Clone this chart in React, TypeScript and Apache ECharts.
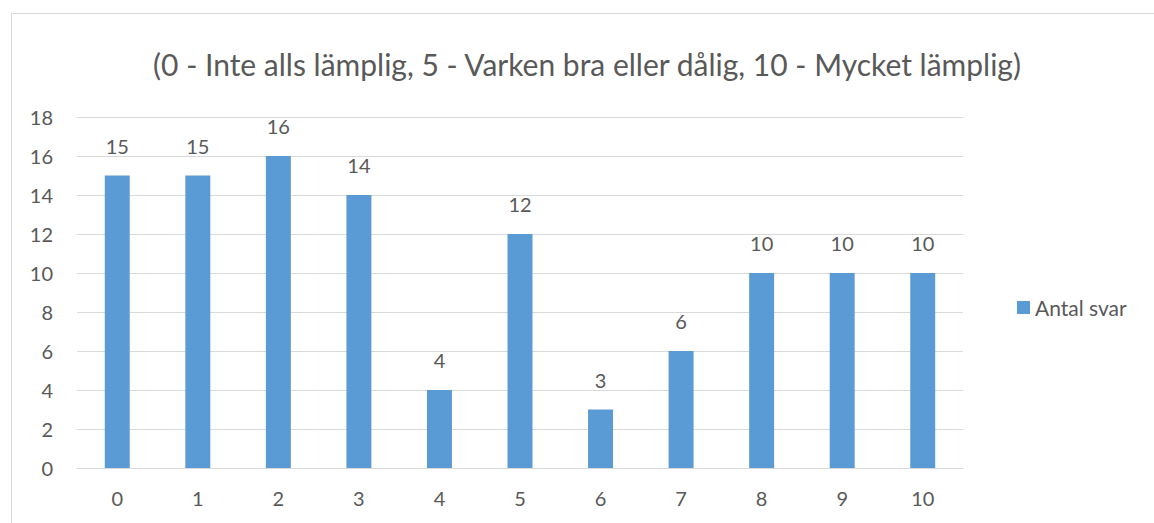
import React, { useEffect, useRef } from "react";
import * as echarts from "echarts";

const categories = ["0", "1", "2", "3", "4", "5", "6", "7", "8", "9", "10"];
const antalSvar = [15, 15, 16, 14, 4, 12, 3, 6, 10, 10, 10];
const titleText = "(0 - Inte alls lämplig, 5 - Varken bra eller dålig, 10 - Mycket lämplig)";
const seriesName = "Antal svar";

const FONT = "Lato, 'Open Sans', sans-serif";
const TXT = "#595959";

export default function App() {
  const ref = useRef<HTMLDivElement>(null);
  useEffect(() => {
    document.body.style.margin = "0";
    const chart = echarts.init(ref.current!, null, { renderer: "svg" });
    chart.setOption({
      animation: false,
      backgroundColor: "#ffffff",
      textStyle: { fontFamily: FONT },
      graphic: [
        {
          type: "rect",
          shape: { x: 11.5, y: 13.5, width: 1300, height: 700 },
          style: { fill: "none", stroke: "#D9D9D9", lineWidth: 1 },
          silent: true,
        },
        {
          type: "text",
          x: 587,
          y: 64,
          style: {
            text: titleText,
            fontFamily: FONT,
            fontSize: 30,
            fill: TXT,
            textAlign: "center",
            textVerticalAlign: "middle",
          },
          silent: true,
        },
      ],
      legend: {
        left: 1012,
        top: 292,
        itemWidth: 13,
        itemHeight: 13,
        icon: "rect",
        itemGap: 6,
        textStyle: { fontFamily: FONT, fontSize: 21, color: TXT },
        data: [seriesName],
      },
      grid: { left: 77, right: 191, top: 117, bottom: 55, containLabel: false },
      xAxis: {
        type: "category",
        data: categories,
        axisLine: { show: true, lineStyle: { color: "#D9D9D9", width: 1 } },
        axisTick: { show: false },
        axisLabel: { fontFamily: FONT, fontSize: 20, color: TXT, margin: 20 },
      },
      yAxis: {
        type: "value",
        min: 0,
        max: 18,
        interval: 2,
        axisLine: { show: false },
        axisTick: { show: false },
        axisLabel: { fontFamily: FONT, fontSize: 20, color: TXT, margin: 24 },
        splitLine: { lineStyle: { color: "#D9D9D9", width: 1 } },
      },
      series: [
        {
          name: seriesName,
          type: "bar",
          data: antalSvar,
          barWidth: "31%",
          itemStyle: { color: "#5B9BD5" },
          label: {
            show: true,
            position: "top",
            distance: 20,
            fontFamily: FONT,
            fontSize: 20,
            color: TXT,
          },
        },
      ],
    });
    return () => chart.dispose();
  }, []);
  return <div ref={ref} style={{ width: 1154, height: 523 }} />;
}
